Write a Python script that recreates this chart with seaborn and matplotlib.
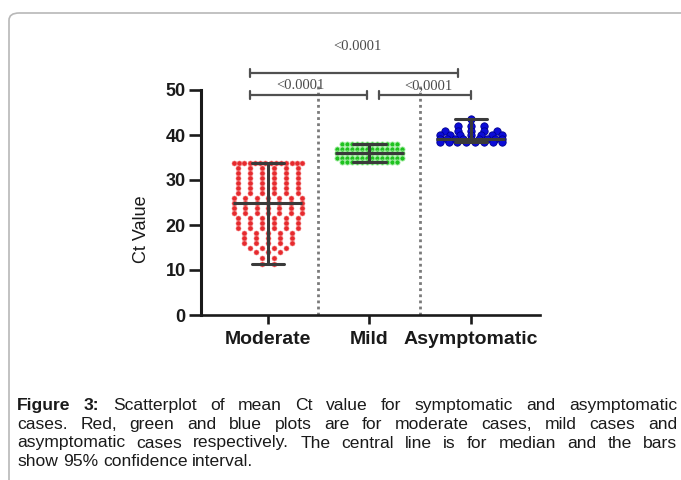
import numpy as np
import pandas as pd
import matplotlib
matplotlib.use("Agg")
import matplotlib.pyplot as plt
import seaborn as sns
from matplotlib import font_manager
from matplotlib.patches import FancyBboxPatch

# ---------------- data (rows of equal Ct values, as plotted) ----------------
categories = ["Moderate", "Mild", "Asymptomatic"]

moderate_rows = [33.8, 32.6, 31.5, 30.4, 29.3, 28.2, 27.1, 26.0, 24.9, 23.8, 22.7,
                 21.6, 20.5, 19.4, 18.3, 17.2, 16.1, 15.0, 13.9, 12.6, 11.4]
moderate_counts = [14, 6, 6, 6, 6, 6, 6, 7, 7, 7, 7, 6, 6, 6, 5, 5, 5, 4, 3, 2, 2]

mild_rows = [38.0, 37.0, 36.0, 35.0, 34.0]
mild_counts = [12, 14, 14, 14, 12]

asymptomatic_rows = [43.5, 41.9, 40.9, 40.0, 39.2, 38.4]
asymptomatic_counts = [1, 3, 5, 7, 9, 8]

y_ticks = [0, 10, 20, 30, 40, 50]
p_top = "<0.0001"
p_left = "<0.0001"
p_right = "<0,0001"
y_label = "Ct Value"

caption_bold = "Figure 3:"
caption_lines = [
    "Scatterplot of mean Ct value for symptomatic and asymptomatic",
    "cases. Red, green and blue plots are for moderate cases, mild cases and",
    "asymptomatic cases respectively. The central line is for median and the bars",
    "show 95% confidence interval.",
]

# ---------------- figure ----------------
sns.set_theme(style="white")
plt.rcParams["font.family"] = ["Liberation Sans", "DejaVu Sans"]

W, H = 681, 480
fig = plt.figure(figsize=(W / 100, H / 100), dpi=100)
ax = fig.add_axes([201 / W, 165 / H, 339 / W, 225 / H])

rows = {"Moderate": (moderate_rows, moderate_counts),
        "Mild": (mild_rows, mild_counts),
        "Asymptomatic": (asymptomatic_rows, asymptomatic_counts)}
spread = {"Moderate": (0.118, 0.67), "Mild": (0.05, 0.64), "Asymptomatic": (0.13, 0.62)}

recs = []
for gi, c in enumerate(categories):
    r_vals, r_counts = rows[c]
    max_sp, max_w = spread[c]
    for v, n in zip(r_vals, r_counts):
        sp = min(max_sp, max_w / (n - 1)) if n > 1 else 0
        for k in range(n):
            recs.append((c, gi, gi + (k - (n - 1) / 2) * sp, v))
df = pd.DataFrame(recs, columns=["group", "pos", "xpos", "ct"])

styles = {
    "Moderate": dict(color="#e62a2e", s=13, edgecolor="#f27a7a", linewidth=0.4),
    "Mild": dict(color="#1fc21f", s=14, edgecolor="#b0f0b0", linewidth=0.6),
    "Asymptomatic": dict(color="#0c0cd8", s=28, edgecolor="#000090", linewidth=0.6),
}
for c in categories:
    sns.scatterplot(data=df[df.group == c], x="xpos", y="ct", ax=ax, zorder=3,
                    legend=False, **styles[c])

sns.pointplot(data=df, x="pos", y="ct", native_scale=True, estimator="median",
              errorbar=lambda v: (np.min(v), np.max(v)), capsize=0.32,
              color="#3a3a3a", linestyle="none", marker="",
              err_kws={"linewidth": 2.2, "zorder": 5}, ax=ax)

for gi, c in enumerate(categories):
    med = df.loc[df.group == c, "ct"].median()
    ax.hlines(med, gi - 0.34, gi + 0.34, color="#3a3a3a", lw=2.2, zorder=6)

ax.set_xlim(-0.66, 2.68)
ax.set_ylim(0, 50)
ax.set_xticks(range(len(categories)))
ax.set_xticklabels(categories)
ax.set_yticks(y_ticks)
ax.set_yticklabels([str(t) for t in y_ticks])
ax.set_xlabel("")
ax.set_ylabel(y_label, fontsize=13, color="#1a1a1a")
ax.yaxis.set_label_coords(-0.15, 0.38)

for s in ["top", "right"]:
    ax.spines[s].set_visible(False)
ax.spines["left"].set_linewidth(2.2)
ax.spines["bottom"].set_linewidth(1.9)
for s in ["left", "bottom"]:
    ax.spines[s].set_color("#1a1a1a")
ax.tick_params(axis="x", direction="out", length=6.5, width=1.9, color="#1a1a1a",
               bottom=True, labelsize=14, labelcolor="#1a1a1a", pad=5)
ax.tick_params(axis="y", direction="out", length=9, width=1.9, color="#1a1a1a",
               left=True, labelsize=13, labelcolor="#1a1a1a", pad=2)
for lab in ax.get_xticklabels() + ax.get_yticklabels():
    lab.set_fontweight("bold")

# dotted separators
ax.vlines([0.49, 1.50], 0, 51.5, colors="#7a7a7a", linestyles=(0, (1, 1.2)), lw=2,
          clip_on=False, zorder=0)

# significance brackets
def bracket(x0, x1, y, h=0.9):
    kw = dict(color="#505050", lw=1.6, clip_on=False, zorder=7)
    ax.plot([x0, x1], [y, y], **kw)
    ax.plot([x0, x0], [y - h, y + h], **kw)
    ax.plot([x1, x1], [y - h, y + h], **kw)

bracket(-0.177, 1.87, 53.8)
bracket(-0.177, 0.975, 48.9)
bracket(1.094, 2.0, 48.9)
tkw = dict(ha="center", va="center", fontsize=10.5, color="#4a4a4a",
           family=["Liberation Serif", "DejaVu Serif"], clip_on=False)
ax.text(0.877, 59.6, p_top, **tkw)
ax.text(0.315, 50.9, p_left, **tkw)
ax.text(1.576, 50.9, p_right, **tkw)

# border box
box = FancyBboxPatch((9 / W, -0.3), 1.2, (H - 13) / H + 0.3,
                     boxstyle="round,pad=0,rounding_size=0.015",
                     transform=fig.transFigure, fill=False,
                     edgecolor="#b8b8b8", lw=1.2)
fig.add_artist(box)

# justified caption
avail = {f.name for f in font_manager.fontManager.ttflist}
if "Liberation Sans Narrow" in avail:
    cap_family, fs = ["Liberation Sans Narrow", "Liberation Sans"], 14.0
else:
    cap_family, fs = ["Liberation Sans", "DejaVu Sans"], 12.6

renderer = fig.canvas.get_renderer()
x_left, x_right = 17, 677
baselines = [410, 429, 447.5, 466]

def width_of(s, weight):
    t = fig.text(0, 0, s, fontsize=fs, weight=weight, family=cap_family)
    w = t.get_window_extent(renderer).width
    t.remove()
    return w

space_w = width_of("a a", "normal") - width_of("aa", "normal")
for li, line in enumerate(caption_lines):
    tokens = [(w, "normal") for w in line.split(" ")]
    if li == 0:
        tokens = [(w, "bold") for w in caption_bold.split(" ")] + tokens
    widths = [width_of(w, wt) for w, wt in tokens]
    if li < len(caption_lines) - 1:
        gap = (x_right - x_left - sum(widths)) / (len(tokens) - 1)
    else:
        gap = space_w
    x = x_left
    for (w, wt), ww in zip(tokens, widths):
        fig.text(x / W, 1 - baselines[li] / H, w, fontsize=fs, weight=wt,
                 family=cap_family, color="#1a1a1a", ha="left", va="baseline")
        x += ww + gap

fig.savefig("out.png", dpi=100)
